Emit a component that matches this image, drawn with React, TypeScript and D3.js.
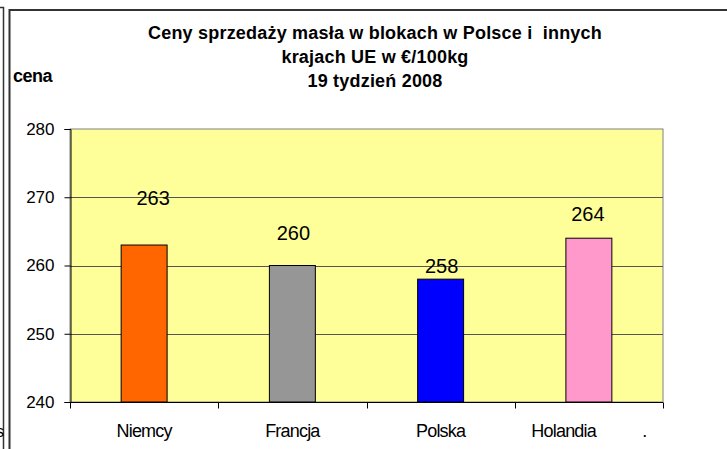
import React, { useEffect, useRef } from 'react'
import * as d3 from 'd3'

const categories = ['Niemcy', 'Francja', 'Polska', 'Holandia']
const axisLabels = ['Niemcy', 'Francja', 'Polska', 'Holandia           .']
const prices = [263, 260, 258, 264]
const barColors = ['#FF6600', '#969696', '#0000FF', '#FF99CC']
const yTicks = [240, 250, 260, 270, 280]
// hand-placed data labels in the original (nudge from bar top)
const labelDx = [9, 1, 1, -1]
const labelDy = [-40, -26, -6, -17]
const titleLines = [
  'Ceny sprzedaży masła w blokach w Polsce i  innych',
  'krajach UE w €/100kg',
  '19 tydzień 2008',
]

function App() {
  const ref = useRef<SVGSVGElement | null>(null)

  useEffect(() => {
    document.body.style.margin = '0'
    const svg = d3.select(ref.current)
    svg.selectAll('*').remove()

    const left = 70
    const right = 663
    const top = 129
    const bottom = 402
    const font = 'Arial, "Liberation Sans", sans-serif'

    const x = d3
      .scaleBand()
      .domain(categories)
      .range([left, right])
      .paddingInner(0.69)
      .paddingOuter(0.345)
    const y = d3.scaleLinear().domain([240, 280]).range([bottom, top])

    svg.append('rect').attr('width', 727).attr('height', 449).attr('fill', '#fff')

    // outer frames
    svg
      .append('path')
      .attr('d', 'M0,7.5H3.5V449')
      .attr('fill', 'none')
      .attr('stroke', '#333')
      .attr('stroke-width', 1.5)
    svg
      .append('path')
      .attr('d', 'M9.5,449V10H727')
      .attr('fill', 'none')
      .attr('stroke', '#333')
      .attr('stroke-width', 2)
    svg
      .append('text')
      .attr('x', -4)
      .attr('y', 437)
      .attr('font-family', font)
      .attr('font-size', 16)
      .text('s')

    // titles
    const title = svg
      .append('text')
      .attr('text-anchor', 'middle')
      .attr('font-family', font)
      .attr('font-weight', 'bold')
      .attr('font-size', 18)
      .attr('letter-spacing', 0.2)
      .attr('fill', '#000')
    titleLines.forEach((line, i) => {
      title
        .append('tspan')
        .attr('x', 375)
        .attr('y', 39 + i * 24)
        .attr('style', 'white-space: pre')
        .text(line)
    })
    svg
      .append('text')
      .attr('x', 13)
      .attr('y', 82)
      .attr('font-family', font)
      .attr('font-weight', 'bold')
      .attr('font-size', 18)
      .attr('letter-spacing', -0.5)
      .text('cena')

    // plot area
    svg
      .append('rect')
      .attr('x', left)
      .attr('y', top)
      .attr('width', right - left)
      .attr('height', bottom - top)
      .attr('fill', '#FFFF99')
      .attr('stroke', '#808080')
      .attr('stroke-width', 1)

    svg
      .append('g')
      .selectAll('line')
      .data(yTicks.slice(1, -1))
      .enter()
      .append('line')
      .attr('x1', left)
      .attr('x2', right)
      .attr('y1', d => Math.round(y(d)) + 0.5)
      .attr('y2', d => Math.round(y(d)) + 0.5)
      .attr('stroke', '#555')
      .attr('stroke-width', 1)

    // bars
    svg
      .append('g')
      .selectAll('rect')
      .data(prices)
      .enter()
      .append('rect')
      .attr('x', (d, i) => x(categories[i]) as number)
      .attr('y', d => y(d))
      .attr('width', x.bandwidth())
      .attr('height', d => bottom - y(d))
      .attr('fill', (d, i) => barColors[i])
      .attr('stroke', '#000')
      .attr('stroke-width', 1)

    // value labels
    svg
      .append('g')
      .selectAll('text')
      .data(prices)
      .enter()
      .append('text')
      .attr('x', (d, i) => (x(categories[i]) as number) + x.bandwidth() / 2 + labelDx[i])
      .attr('y', (d, i) => y(d) + labelDy[i])
      .attr('text-anchor', 'middle')
      .attr('font-family', font)
      .attr('font-size', 20)
      .text(d => d)

    // y axis
    const yAxis = svg
      .append('g')
      .attr('transform', `translate(${left + 0.5},0)`)
      .call(d3.axisLeft(y).tickValues(yTicks).tickSize(6).tickPadding(10))
    yAxis.select('.domain').attr('stroke', '#000')
    yAxis.selectAll('.tick line').attr('stroke', '#000')
    yAxis
      .selectAll('.tick text')
      .attr('font-family', font)
      .attr('font-size', 17)
      .attr('fill', '#000')

    // x axis
    const xAxis = svg
      .append('g')
      .attr('transform', `translate(0,${bottom + 0.5})`)
      .call(d3.axisBottom(x).tickSize(0).tickPadding(0).tickFormat(() => ''))
    xAxis.select('.domain').remove()
    xAxis
      .append('line')
      .attr('x1', left)
      .attr('x2', right)
      .attr('stroke', '#000')
    const bounds = [left, ...categories.map(c => (x(c) as number) - (x.step() * x.paddingInner()) / 2 + x.step())]
    xAxis
      .selectAll('.bound')
      .data(bounds)
      .enter()
      .append('line')
      .attr('x1', d => Math.round(d) + 0.5)
      .attr('x2', d => Math.round(d) + 0.5)
      .attr('y1', 0)
      .attr('y2', 6)
      .attr('stroke', '#000')
    xAxis
      .selectAll('.cat')
      .data(axisLabels)
      .enter()
      .append('text')
      .attr('x', (d, i) => (x(categories[i]) as number) + x.bandwidth() / 2)
      .attr('y', 34)
      .attr('text-anchor', 'middle')
      .attr('style', 'white-space: pre')
      .attr('font-family', font)
      .attr('font-size', 18)
      .attr('letter-spacing', -0.8)
      .attr('fill', '#000')
      .text(d => d)
  }, [])

  return <svg ref={ref} width={727} height={449} style={{ display: 'block' }} />
}

export default App
